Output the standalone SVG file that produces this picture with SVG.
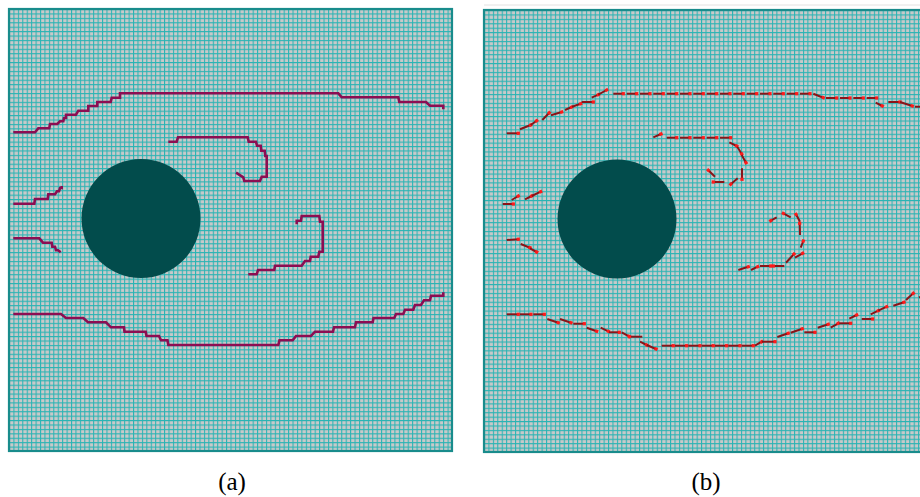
<svg xmlns="http://www.w3.org/2000/svg" width="920" height="497" viewBox="0 0 920 497">
<style>
.bg{fill:#ffffff}
.frame{stroke:#198c8c;stroke-width:2.2}
.circ{fill:#024c4c}
.stair{fill:none;stroke:#8c0d52;stroke-width:2.6;stroke-linejoin:miter}
.dash line{stroke:#8a1418;stroke-width:2;marker-end:url(#dot)}
.lbl{font-family:"Liberation Serif","Times New Roman",serif;font-size:25px;fill:#000;text-anchor:middle}
</style>
<defs>
<pattern id="gridA" patternUnits="userSpaceOnUse" x="9" y="9" width="4.43" height="4.42">
<rect width="4.43" height="4.42" fill="#c9c9c9"/>
<path d="M0.5 0V4.42M0 0.5H4.43" stroke="#29b4b4" stroke-width="1.1"/>
</pattern>
<pattern id="gridB" patternUnits="userSpaceOnUse" x="484" y="10" width="4.43" height="4.42">
<rect width="4.43" height="4.42" fill="#c9c9c9"/>
<path d="M0.5 0V4.42M0 0.5H4.43" stroke="#29b4b4" stroke-width="1.1"/>
</pattern>
<marker id="dot" markerUnits="userSpaceOnUse" markerWidth="4" markerHeight="4" refX="2" refY="2" orient="auto">
<rect x="0.4" y="0.4" width="3.2" height="3.2" fill="#ff1a1a"/>
</marker>
</defs>
<rect class="bg" width="920" height="497"/>

<g id="panel-a">
<rect x="9" y="9" width="443" height="442" fill="url(#gridA)" class="frame"/>
<circle class="circ" cx="141" cy="218.5" r="59.5"/>
<g id="lines-a">
<polyline class="stair" points="13.3,132.3 35,132.3 38.3,128.3 49.3,128.3 50,124 57.3,124 60,121.3 63.3,121.3 64,118 66,118 66,114.7 76,114.7 78.3,110.7 88.3,110.7 88.3,106 97.3,106 97.3,102 110.7,102 111.7,97.7 120,97.7 120,93.3 338.3,93.3 341.7,97.3 398.3,97.3 399.3,102 426,102 430,105.7 443.3,105.7 443.3,109.3"/>
<polyline class="stair" points="168.3,141.7 176.7,141.7 178,137.3 247.7,137.3 248.7,141.7 256,141.7 257,145.7 260.7,145.7 261.3,150.7 264.7,150.7 265.3,156 266.7,156 266.7,176.7 261.7,176.7 260,181 244.3,181 243.3,177.3 236,172.7"/>
<polyline class="stair" points="13.3,203.7 34.3,203.7 35,199 47.7,199 48.3,194.3 55,194.3 57,191.3 59,191.3 60,188 61.7,188 61.7,186"/>
<polyline class="stair" points="13.3,238.3 39.3,238.3 43,242.7 51.7,242.7 52.3,246.7 55,246.7 56,250.3 58,250.3 60.7,252.3"/>
<polyline class="stair" points="248.3,274.3 256.7,274.3 258,270 274.3,270 275,265.7 301.7,265.7 305,261 310,261 310.7,256.7 318.3,256.7 319.3,251.7 322.7,251.7 322.7,221.7 320,221.7 319.3,216 301.7,216 301,220.7 296.7,220.7 296.7,224.3"/>
<polyline class="stair" points="13.3,314 61,314 66,318 83.3,318 88,322.3 106,322.3 111,327.3 124,327.3 124.5,331.7 145.7,331.7 146.5,336 159,336 161,340.3 167.5,340.3 168.3,345 278.3,345 279.5,340.3 292.7,340.3 296,336 311,336 315,331.7 333,331.7 334,327.3 355,327.3 356,322.3 372.7,322.3 373.5,318 394.3,318 396,314 403.3,314 405,309.7 413.3,309.7 415,305 421,305 424,300.3 430,300.3 431,295.7 443.3,295.7 443.3,292.3"/>
</g>
<text class="lbl" x="232" y="490">(a)</text>
</g>

<g id="panel-b">
<line x1="484" y1="5" x2="920" y2="5" stroke="#e2e2e2" stroke-width="1"/>
<rect x="484" y="10" width="445" height="442" fill="url(#gridB)" class="frame"/>
<circle class="circ" cx="617" cy="219" r="59.5"/>
<g id="lines-b" class="dash">
<line x1="506.7" y1="133.3" x2="518.3" y2="133.3"/>
<line x1="520" y1="129.3" x2="530.7" y2="125"/>
<line x1="530.7" y1="125" x2="536.7" y2="120.7"/>
<line x1="542.3" y1="120" x2="549.3" y2="112.7"/>
<line x1="551" y1="115.3" x2="561.7" y2="112"/>
<line x1="565" y1="110" x2="571.7" y2="107"/>
<line x1="572" y1="106.7" x2="580.7" y2="103.7"/>
<line x1="581.7" y1="102" x2="593.3" y2="102"/>
<line x1="591.7" y1="97.7" x2="598.3" y2="94.7"/>
<line x1="598.3" y1="94.7" x2="606.7" y2="90"/>
<line x1="613.3" y1="93.7" x2="623.3" y2="93.7"/>
<line x1="626.7" y1="93.7" x2="636.7" y2="93.7"/>
<line x1="640" y1="93.7" x2="650" y2="93.7"/>
<line x1="653.3" y1="93.7" x2="663.3" y2="93.7"/>
<line x1="666.7" y1="93.7" x2="676.7" y2="93.7"/>
<line x1="680" y1="93.7" x2="690" y2="93.7"/>
<line x1="693.3" y1="93.7" x2="703.3" y2="93.7"/>
<line x1="706.7" y1="93.7" x2="716.7" y2="93.7"/>
<line x1="720" y1="93.7" x2="730" y2="93.7"/>
<line x1="733.3" y1="93.7" x2="743.3" y2="93.7"/>
<line x1="746.7" y1="93.7" x2="756.7" y2="93.7"/>
<line x1="760" y1="93.7" x2="770" y2="93.7"/>
<line x1="773.3" y1="93.7" x2="783.3" y2="93.7"/>
<line x1="786.7" y1="93.7" x2="796.7" y2="93.7"/>
<line x1="800" y1="93.7" x2="810" y2="93.7"/>
<line x1="813.3" y1="93.7" x2="823.3" y2="97.7"/>
<line x1="826" y1="98" x2="836.7" y2="98"/>
<line x1="840" y1="98" x2="850" y2="98"/>
<line x1="853.3" y1="98" x2="863.3" y2="98"/>
<line x1="866.7" y1="98" x2="876.7" y2="98"/>
<line x1="875.7" y1="102.7" x2="882.3" y2="106"/>
<line x1="888.3" y1="102" x2="900" y2="102"/>
<line x1="900" y1="102" x2="912.3" y2="106"/>
<line x1="915" y1="106.7" x2="925" y2="106.7"/>

<line x1="653.3" y1="137.3" x2="661" y2="134"/>
<line x1="666.7" y1="137.7" x2="676.7" y2="137.7"/>
<line x1="680" y1="137.7" x2="690" y2="137.7"/>
<line x1="693.3" y1="137.7" x2="703.3" y2="137.7"/>
<line x1="706.7" y1="137.7" x2="716.7" y2="137.7"/>
<line x1="720" y1="137.7" x2="730.7" y2="137.7"/>
<line x1="729.3" y1="142.3" x2="736.7" y2="146"/>
<line x1="737.3" y1="146.7" x2="741.7" y2="154"/>
<line x1="741.7" y1="155" x2="746" y2="162.7"/>
<line x1="742" y1="168.3" x2="742" y2="179.3"/>
<line x1="737.7" y1="178.3" x2="730.7" y2="184.3"/>
<line x1="724.3" y1="182" x2="713.3" y2="182"/>
<line x1="715" y1="176.7" x2="708.3" y2="170.3"/>

<line x1="502.7" y1="204" x2="513.3" y2="204"/>
<line x1="511.7" y1="200" x2="518.3" y2="196"/>
<line x1="525" y1="199.3" x2="531.7" y2="196"/>
<line x1="531.7" y1="196" x2="540.7" y2="191.7"/>
<line x1="506.7" y1="240" x2="518.3" y2="239.3"/>
<line x1="520.7" y1="244" x2="530" y2="247.7"/>
<line x1="530" y1="248.3" x2="536.7" y2="252"/>

<line x1="776.7" y1="217.3" x2="770.7" y2="220.7"/>
<line x1="790.7" y1="217.3" x2="783.3" y2="213.3"/>
<line x1="800" y1="221.7" x2="796" y2="214.3"/>
<line x1="800" y1="235" x2="799.7" y2="223.3"/>
<line x1="800.7" y1="247.7" x2="803.3" y2="241"/>
<line x1="795" y1="257.7" x2="802.7" y2="253.3"/>
<line x1="786" y1="262.7" x2="794" y2="254"/>
<line x1="784.3" y1="266" x2="773.3" y2="266"/>
<line x1="760" y1="266" x2="770.7" y2="266"/>
<line x1="751" y1="270" x2="757.7" y2="266.7"/>
<line x1="738.3" y1="270" x2="748.3" y2="266.7"/>

<line x1="506.7" y1="314.3" x2="518.3" y2="314.3"/>
<line x1="520" y1="314.3" x2="531" y2="314.3"/>
<line x1="533.3" y1="314.3" x2="544.3" y2="314.3"/>
<line x1="547.3" y1="319" x2="558.3" y2="322.7"/>
<line x1="560" y1="319" x2="571" y2="322.7"/>
<line x1="573.3" y1="323.7" x2="584.3" y2="323.7"/>
<line x1="586.7" y1="327.7" x2="596.7" y2="331.3"/>
<line x1="600.7" y1="327.7" x2="608.3" y2="331.3"/>
<line x1="609" y1="332.3" x2="619.3" y2="332.3"/>
<line x1="621.7" y1="332.3" x2="629" y2="336.3"/>
<line x1="642.3" y1="336.7" x2="629.5" y2="336.7"/>
<line x1="640" y1="341.7" x2="646.7" y2="345"/>
<line x1="646.7" y1="345" x2="656" y2="349"/>
<line x1="661.7" y1="345.7" x2="673.3" y2="345.7"/>
<line x1="675" y1="345.7" x2="686.7" y2="345.7"/>
<line x1="688.3" y1="345.7" x2="700" y2="345.7"/>
<line x1="701.7" y1="345.7" x2="713.3" y2="345.7"/>
<line x1="715" y1="345.7" x2="726.7" y2="345.7"/>
<line x1="728.3" y1="345.7" x2="740" y2="345.7"/>
<line x1="741.7" y1="345.7" x2="753.3" y2="345.7"/>
<line x1="755" y1="345.7" x2="761.7" y2="341.7"/>
<line x1="761.7" y1="341.7" x2="775" y2="341.7"/>
<line x1="777.3" y1="337" x2="788.3" y2="333.3"/>
<line x1="790.7" y1="332.7" x2="802.3" y2="328.7"/>
<line x1="804.3" y1="332.3" x2="815" y2="332.3"/>
<line x1="817.7" y1="327.7" x2="828.3" y2="324.3"/>
<line x1="830.7" y1="327.7" x2="838.3" y2="323.3"/>
<line x1="839.3" y1="323.3" x2="850.7" y2="323.3"/>
<line x1="849.3" y1="318.7" x2="856.7" y2="315"/>
<line x1="861.7" y1="319" x2="872.7" y2="319"/>
<line x1="870.7" y1="314.3" x2="878.3" y2="310.7"/>
<line x1="878.3" y1="310.7" x2="886.7" y2="306.7"/>
<line x1="893.3" y1="305.7" x2="904" y2="302.3"/>
<line x1="906" y1="300" x2="913.3" y2="293.3"/>
<line x1="919" y1="297.7" x2="925" y2="294"/>
</g>
<text class="lbl" x="706" y="490">(b)</text>
</g>
</svg>
